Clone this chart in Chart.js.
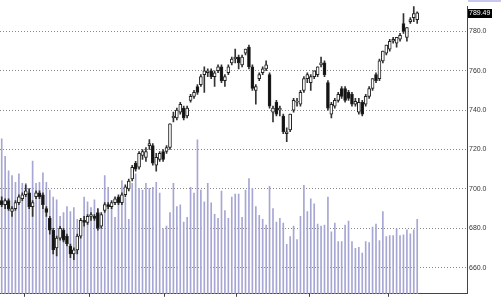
<!DOCTYPE html>
<html>
<head>
<meta charset="utf-8">
<script src="https://cdn.jsdelivr.net/npm/chart.js@4.4.1/dist/chart.umd.min.js"></script>
<style>
  html, body { margin: 0; padding: 0; background: #fff; }
  #wrap { width: 501px; height: 300px; }
</style>
</head>
<body>
<div id="wrap"><canvas id="priceCanvas" width="501" height="300"></canvas></div>
<script>
// trading days shown per month (last month includes the empty slots on the right)
const monthNames = ['May', 'Jun', 'Jul', 'Aug', 'Sep', 'Oct', 'Nov'];
const monthDays = [7, 19, 22, 21, 21, 23, 23];

const opens = [
  694, 692, 694, 688.5, 690, 693, 695, 697, 698, 691, 696, 698, 697, 690, 685, 679, 670, 675, 679, 676,
  671, 667, 669, 676, 684, 683, 686, 686, 688, 681, 689, 692, 691, 693, 696, 693, 697, 700, 705, 713,
  711, 717, 716, 722, 722, 712, 715, 719, 719, 721, 736, 736, 739, 741, 737, 745, 747, 752, 753, 758,
  759, 760, 757, 760, 762, 755, 759, 764, 766, 767, 763, 769, 772, 762, 750, 756, 759, 761, 758, 739,
  744, 740, 737, 728, 730, 740, 744, 743, 750, 756, 754, 757, 758, 763, 764, 754, 738, 742, 745, 751,
  751, 749, 748, 743, 739, 744, 743, 747, 751, 758, 756, 765, 769, 771, 775, 774, 776, 784, 777, 785,
  787, 786
];
const highs = [
  696, 695, 695, 691, 694, 697, 698, 702, 700, 694, 699, 699, 698, 691, 686, 680, 676, 681, 680, 677,
  672, 670, 677, 685, 686, 687, 688, 687, 690, 688, 693, 693, 694, 696, 697, 698, 702, 705, 712, 714,
  719, 720, 721, 725, 723, 718, 719, 720, 722, 733, 739, 741, 744, 742, 742, 748, 750, 753, 758, 762,
  761, 761, 760, 763, 763, 758, 763, 767, 771, 768, 768, 771, 773, 763, 753, 759, 762, 765, 759, 742,
  745, 742, 738, 731, 738, 746, 746, 750, 757, 759, 758, 760, 762, 767, 765, 755, 744, 746, 749, 752,
  752, 750, 749, 746, 746, 745, 748, 752, 756, 759, 766, 770, 773, 776, 777, 777, 779, 789, 782, 787,
  793, 790
];
const lows = [
  691, 690, 689, 686, 689, 692, 694, 696, 690, 686, 695, 695, 690, 686, 677, 667, 666, 674, 673, 671,
  665, 664, 667, 675, 681, 682, 684, 684, 679, 680, 688, 690, 690, 692, 692, 692, 696, 699, 704, 709,
  710, 715, 714, 720, 712, 709, 714, 714, 718, 720, 734, 735, 738, 735, 736, 744, 746, 748, 752, 749,
  757, 756, 752, 759, 754, 752, 758, 763, 764, 761, 762, 768, 761, 750, 743, 755, 758, 760, 741, 734,
  737, 737, 728, 724, 729, 739, 742, 742, 749, 754, 750, 756, 757, 762, 757, 740, 736, 741, 744, 746,
  744, 745, 742, 742, 738, 737, 742, 746, 750, 754, 755, 764, 768, 770, 774, 772, 775, 779, 775, 784,
  785, 784
];
const closes = [
  692, 694, 690, 690, 693, 696, 697, 699, 691, 693, 698, 696, 692, 688, 679, 669, 675, 680, 674, 672,
  667, 669, 676, 684, 683, 686, 687, 685, 680, 687, 692, 691, 693, 695, 693, 697, 701, 704, 711, 710,
  718, 719, 719, 723, 713, 716, 718, 715, 721, 733, 737, 740, 743, 736, 741, 747, 749, 749, 757, 760,
  760, 757, 759, 762, 755, 757, 762, 766, 767, 764, 767, 771, 762, 751, 752, 758, 761, 763, 742, 741,
  738, 741, 729, 729, 738, 745, 744.5, 749, 756, 758, 757, 760, 762, 764, 758, 741, 743, 745, 748, 747,
  745, 746, 743, 744.5, 744, 738, 747, 751, 756, 755, 765, 770, 773, 775, 776, 777, 778, 780, 782, 786,
  789, 789.49
];
// volume, millions of shares
const volumes = [
  16.0, 14.2, 12.7, 12.2, 11.5, 12.4, 11.4, 11.4, 10.9, 13.7, 11.4, 11.5, 12.5, 11.5, 10.7, 10.0, 9.7, 8.0, 8.4, 9.0,
  8.5, 8.9, 7.7, 6.7, 10.0, 9.5, 8.9, 9.7, 8.7, 8.0, 12.2, 11.0, 8.9, 7.9, 10.0, 11.7, 9.9, 7.7, 11.4, 12.4,
  10.9, 10.7, 11.4, 10.9, 11.0, 11.5, 10.4, 6.7, 7.0, 8.4, 11.4, 9.0, 9.2, 7.4, 7.9, 11.0, 10.4, 15.9, 10.7, 9.5,
  11.4, 9.4, 8.2, 7.8, 10.6, 8.6, 7.8, 10.0, 10.3, 10.3, 7.9, 10.7, 11.9, 10.9, 9.0, 8.1, 7.7, 7.1, 11.1, 8.8,
  7.4, 7.8, 7.3, 5.1, 5.9, 7.0, 5.6, 8.0, 11.2, 8.5, 9.8, 9.3, 7.2, 7.0, 7.1, 10.0, 6.4, 7.3, 5.4, 5.4,
  7.1, 7.5, 5.4, 4.7, 4.8, 4.2, 5.4, 5.3, 6.9, 7.2, 5.5, 8.5, 5.9, 6.0, 6.0, 6.7, 6.0, 6.1, 6.6, 6.2,
  6.6, 7.7
];
const priceTicks = [660, 680, 700, 720, 740, 760, 780];

const labels = [];
monthNames.forEach((m, k) => {
  for (let d = 1; d <= monthDays[k]; d++) labels.push(m + ' ' + d);
});

const bodies = opens.map((o, i) => [o, closes[i]]);
const wicks = lows.map((l, i) => [l, highs[i]]);
const bodyColors = opens.map((o, i) => closes[i] >= o ? '#ffffff' : '#111111');

const lastPriceLabel = {
  id: 'lastPriceLabel',
  afterDraw(chart) {
    const ctx = chart.ctx;
    const last = closes[closes.length - 1];
    const y = Math.round(chart.scales.y.getPixelForValue(last));
    const x = chart.chartArea.right + 1;
    ctx.save();
    // clipped box of the marker above
    ctx.fillStyle = '#c8c8ee';
    ctx.fillRect(x, 0, 33, 2);
    ctx.fillStyle = '#000';
    ctx.fillRect(x, y - 4, 24, 9);
    ctx.fillStyle = '#fff';
    ctx.font = '7px "Liberation Sans", Arial, sans-serif';
    ctx.textBaseline = 'middle';
    ctx.fillText(last.toFixed(2), x + 1, y + 0.5);
    ctx.restore();
  }
};

new Chart(document.getElementById('priceCanvas'), {
  type: 'bar',
  data: {
    labels: labels,
    datasets: [
      {
        label: 'Body',
        data: bodies,
        yAxisID: 'y',
        grouped: false,
        order: 1,
        barThickness: 3,
        minBarLength: 1,
        backgroundColor: bodyColors,
        borderColor: '#222',
        borderWidth: 1,
        borderSkipped: false
      },
      {
        label: 'Wick',
        data: wicks,
        yAxisID: 'y',
        grouped: false,
        order: 2,
        barThickness: 1,
        backgroundColor: '#333'
      },
      {
        label: 'Volume',
        data: volumes,
        yAxisID: 'yv',
        grouped: false,
        order: 3,
        barThickness: 1,
        backgroundColor: '#a6a6d4'
      }
    ]
  },
  options: {
    responsive: false,
    animation: false,
    layout: { padding: 0 },
    scales: {
      x: {
        offset: true,
        ticks: { display: false, autoSkip: false },
        grid: {
          offset: true,
          drawOnChartArea: false,
          drawTicks: true,
          tickLength: 3,
          color: ctx => (labels[ctx.index] || '').endsWith(' 1') ? '#444' : 'rgba(0,0,0,0)'
        },
        border: { display: true, color: '#444' },
        afterFit: scale => { scale.height = 3; }
      },
      y: {
        position: 'right',
        min: 646.7,
        max: 792.8,
        afterBuildTicks: scale => { scale.ticks = priceTicks.map(v => ({ value: v })); },
        ticks: {
          padding: 2,
          color: '#333',
          font: { family: '"Liberation Sans", Arial, sans-serif', size: 7 },
          callback: v => v.toFixed(1)
        },
        grid: { drawTicks: false, color: '#888', lineWidth: 1 },
        border: { display: true, color: '#444', dash: [1, 2] },
        afterFit: scale => { scale.width = 34; }
      },
      yv: {
        display: false,
        min: 0,
        max: 29.7
      }
    },
    plugins: {
      legend: { display: false },
      tooltip: { enabled: false }
    }
  },
  plugins: [lastPriceLabel]
});
</script>
</body>
</html>
